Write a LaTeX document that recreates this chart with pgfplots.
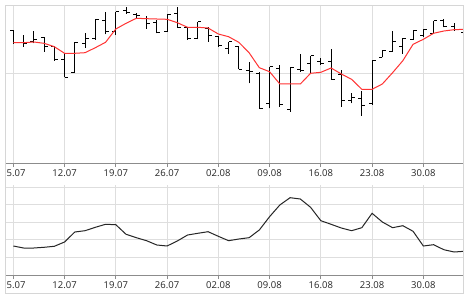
\documentclass[border=0pt]{standalone}
\usepackage{pgfplots}
\pgfplotsset{compat=1.18}
\usepackage{pgfplotstable}
\usepackage{fontspec}
\setmainfont{Open Sans}
\definecolor{gridc}{HTML}{DEDEDE}
\definecolor{axisc}{HTML}{8C8C8C}
\definecolor{framec}{HTML}{D6D6D6}
\definecolor{mared}{HTML}{FF3333}

\pgfplotstableread{
x H L O C
0 133.0 119.3 132.3 120.3
1 128.3 116.0 120.3 119.7
2 132.3 119.7 121.0 123.7
3 125.7 111.3 125.7 116.0
4 117.3 102.3 116.3 103.7
5 110.3 85.7 103.7 85.7
6 121.3 90.7 90.7 120.3
7 130.3 115.3 119.7 124.7
8 143.7 123.0 124.0 143.7
9 151.3 128.7 142.0 131.3
10 151.3 128.0 131.0 151.3
11 156.3 149.0 152.0 150.3
12 149.7 145.3 148.3 147.0
13 147.0 134.0 144.7 139.7
14 143.0 129.7 140.3 130.7
15 148.3 131.3 131.3 148.3
16 156.3 135.0 149.7 135.7
17 135.7 123.0 135.7 124.0
18 141.0 123.7 124.3 141.0
19 135.7 121.0 134.3 127.0
20 127.0 116.3 126.3 117.0
21 121.3 109.3 114.0 121.3
22 116.3 93.7 116.3 93.7
23 101.3 79.7 92.0 91.3
24 91.3 54.7 89.7 54.7
25 96.3 54.7 59.7 96.3
26 98.0 56.3 94.7 58.0
27 95.3 51.3 53.7 95.3
28 108.7 91.3 93.7 92.0
29 107.0 90.3 99.7 107.0
30 105.3 98.0 101.0 99.7
31 114.0 83.0 101.3 83.7
32 93.0 56.3 88.0 62.0
33 70.3 59.7 62.0 65.7
34 72.0 47.0 64.3 57.0
35 102.0 58.0 59.0 102.0
36 113.0 105.7 105.7 112.3
37 132.3 111.3 111.3 121.3
38 125.3 109.0 116.3 124.3
39 132.0 123.0 123.0 132.0
40 133.0 125.7 127.7 133.0
41 142.3 129.7 129.7 142.3
42 144.0 135.7 142.3 136.3
43 140.3 132.3 136.3 133.7
44 134.7 128.0 130.3 131.3
}\ohlc

\pgfplotstableread{
x M
0 120.3
1 120.3
2 121.0
3 119.7
4 116.3
5 109.7
6 109.7
7 110.3
8 115.3
9 120.7
10 134.0
11 139.7
12 144.7
13 144.3
14 144.0
15 143.7
16 140.3
17 135.7
18 135.7
19 135.0
20 129.0
21 126.3
22 120.7
23 110.3
24 95.3
25 91.3
26 79.0
27 79.0
28 79.0
29 89.7
30 90.7
31 95.0
32 89.0
33 83.7
34 73.7
35 73.7
36 79.0
37 90.3
38 102.3
39 118.7
40 123.7
41 129.7
42 132.0
43 133.3
44 133.7
}\ma

\pgfplotstableread{
x V
0 29.0
1 27.0
2 27.0
3 27.7
4 28.7
5 33.0
6 43.0
7 44.3
8 47.7
9 50.7
10 50.3
11 40.7
12 37.3
13 34.3
14 30.0
15 29.0
16 34.0
17 40.0
18 41.7
19 43.3
20 38.7
21 34.3
22 36.0
23 37.3
24 45.0
25 58.3
26 70.0
27 77.3
28 76.0
29 67.7
30 54.3
31 50.7
32 47.0
33 44.3
34 47.3
35 61.7
36 53.0
37 47.3
38 49.3
39 43.7
40 29.0
41 30.3
42 25.3
43 23.0
44 23.7
}\osc

\pgfplotsset{
  panel/.style={
    scale only axis,
    anchor=south west,
    width=458pt,
    xmin=-0.81, xmax=43.87,
    axis x line*=bottom,
    axis y line*=left,
    y axis line style={draw=none},
    x axis line style={draw=axisc, line width=1pt},
    xtick={0,5,...,40},
    xticklabels={05.07,12.07,19.07,26.07,02.08,09.08,16.08,23.08,30.08},
    yticklabels={},
    ytick style={draw=none},
    xtick style={draw=axisc, line width=1pt},
    tick align=outside,
    major tick length=4pt,
    xmajorgrids, ymajorgrids,
    grid style={draw=gridc, line width=1pt},
    tick label style={font=\fontsize{9.5}{11}\selectfont, text=black!85},
    xticklabel style={yshift=1pt},
    clip=true,
  }
}

\begin{document}
\begin{tikzpicture}[x=1pt,y=1pt]
\useasboundingbox[fill=white] (0,0) rectangle (470,300);
\begin{scope}
\clip (5,6.5) rectangle (463,294.3);
\begin{axis}[panel, at={(5pt,137pt)}, height=157pt,
    ymin=0, ymax=157, ytick={89}]
  \addplot[black, line width=1pt, quiver={u=0, v=\thisrow{H}-\thisrow{L}}]
    table[x=x, y=L] {\ohlc};
  \addplot[black, line width=1pt, quiver={u=-0.34, v=0}]
    table[x=x, y=O] {\ohlc};
  \addplot[black, line width=1pt, quiver={u=0.34, v=0}]
    table[x=x, y=C] {\ohlc};
  \addplot[mared, line width=1pt] table[x=x, y=M] {\ma};
\end{axis}
\begin{axis}[panel, at={(5pt,25pt)}, height=90pt,
    ymin=0, ymax=90, ytick={17.5,35,52.5,70,87.5}]
  \addplot[black!85, line width=1pt] table[x=x, y=V] {\osc};
\end{axis}
\end{scope}
\draw[framec, line width=1pt] (5,6.5) rectangle (463,294.3);
\end{tikzpicture}
\end{document}
